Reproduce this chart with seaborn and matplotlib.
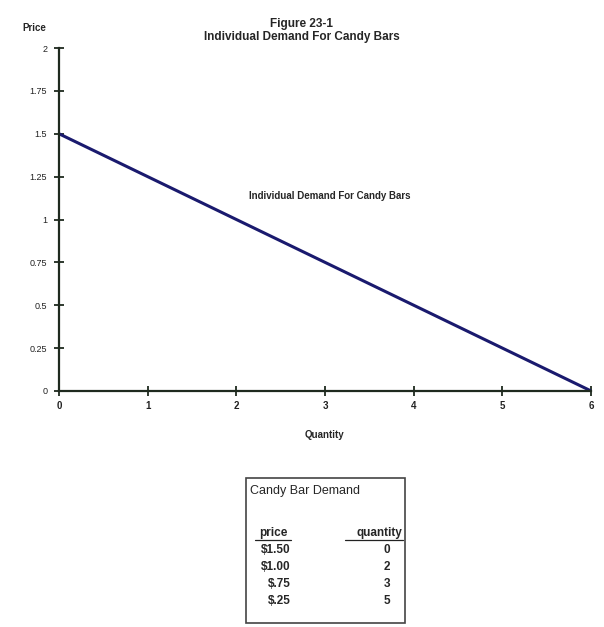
import matplotlib
matplotlib.use("Agg")
import matplotlib.pyplot as plt
import seaborn as sns
import pandas as pd
from matplotlib.patches import Rectangle

# ------------------------------
# Data
# ------------------------------
line_quantity = [0, 6]
line_price = [1.5, 0]

table_price = ["$1.50", "$1.00", "$.75", "$.25"]
table_quantity = [0, 2, 3, 5]

x_ticks = [0, 1, 2, 3, 4, 5, 6]
y_ticks = [0, 0.25, 0.5, 0.75, 1, 1.25, 1.5, 1.75, 2]
y_tick_labels = ["0", "0.25", "0.5", "0.75", "1", "1.25", "1.5", "1.75", "2"]

df = pd.DataFrame({"quantity": line_quantity, "price": line_price})

# ------------------------------
# Plot
# ------------------------------
sns.set_style("white")
plt.rcParams['font.family'] = ['Liberation Sans', 'DejaVu Sans']

fig = plt.figure(figsize=(6.04, 6.27), dpi=100)
ax = fig.add_axes([0.0977, 0.3764, 0.881, 0.547])

sns.lineplot(data=df, x="quantity", y="price", color="#1a1a6e", linewidth=2.2, ax=ax)

ax.set_xlim(0, 6)
ax.set_ylim(0, 2)
ax.set_xticks(x_ticks)
ax.set_xticklabels([str(t) for t in x_ticks], fontsize=7, fontweight="bold")
ax.set_yticks(y_ticks)
ax.set_yticklabels(y_tick_labels, fontsize=6.5)
ax.tick_params(axis="both", bottom=True, left=True, direction="inout", length=7,
               width=1.3, color="#1f2a1f", labelcolor="#222222")
ax.tick_params(axis="x", pad=4)
ax.tick_params(axis="y", pad=5)

for side in ["top", "right"]:
    ax.spines[side].set_visible(False)
for side in ["left", "bottom"]:
    ax.spines[side].set_color("#1f2a1f")
    ax.spines[side].set_linewidth(1.6)

ax.set_xlabel("")
ax.set_ylabel("")

fig.text(0.5, 0.952, "Figure 23-1\nIndividual Demand For Candy Bars",
         ha="center", va="center", fontsize=8.5, fontweight="bold", linespacing=1.1)
fig.text(22 / 604, 1 - 28 / 627, "Price", ha="left", va="center", fontsize=7, fontweight="bold")
fig.text(324 / 604, 1 - 435 / 627, "Quantity", ha="center", va="center", fontsize=7, fontweight="bold")
ax.text(3.05, 1.14, "Individual Demand For Candy Bars", ha="center", va="center",
        fontsize=7, fontweight="bold")

# ------------------------------
# Table box
# ------------------------------
x0, x1 = 246 / 604, 405 / 604
y_top, y_bot = 1 - 478 / 627, 1 - 623 / 627
fig.patches.append(Rectangle((x0, y_bot), x1 - x0, y_top - y_bot, transform=fig.transFigure,
                             fill=False, edgecolor="#444444", linewidth=1.2))
fig.text(250 / 604, 1 - 491 / 627, "Candy Bar Demand", ha="left", va="center", fontsize=9)
fig.text(273 / 604, 1 - 533 / 627, "price", ha="center", va="center", fontsize=8.5, fontweight="bold")
fig.text(402 / 604, 1 - 533 / 627, "quantity", ha="right", va="center", fontsize=8.5, fontweight="bold")
fig.add_artist(plt.Line2D([255 / 604, 291 / 604], [1 - 540 / 627] * 2, color="#222222", linewidth=0.9))
fig.add_artist(plt.Line2D([345 / 604, 403 / 604], [1 - 540 / 627] * 2, color="#222222", linewidth=0.9))

row_y = [550, 567, 584, 601]
for p, q, y in zip(table_price, table_quantity, row_y):
    fig.text(291 / 604, 1 - y / 627, p, ha="right", va="center", fontsize=8.5, fontweight="bold")
    fig.text(390 / 604, 1 - y / 627, str(q), ha="right", va="center", fontsize=8.5, fontweight="bold")

plt.savefig("out.png", dpi=100)
